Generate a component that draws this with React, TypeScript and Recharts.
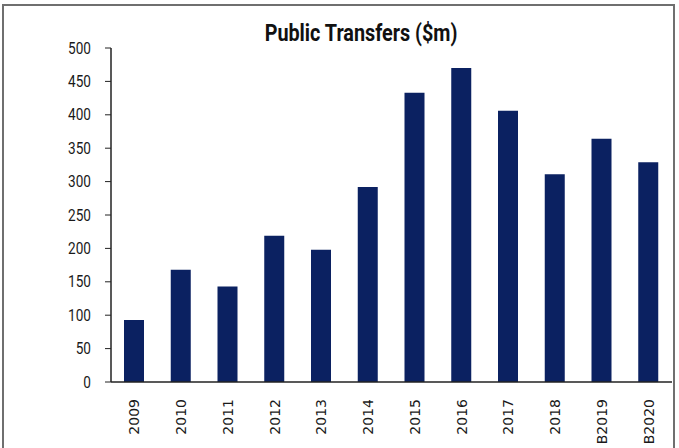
import { BarChart, Bar, XAxis, YAxis } from "recharts";

const years = ["2009", "2010", "2011", "2012", "2013", "2014", "2015", "2016", "2017", "2018", "B2019", "B2020"];
const transfers = [93, 168, 143, 219, 198, 292, 433, 470, 406, 311, 364, 329];
const yTicks = [0, 50, 100, 150, 200, 250, 300, 350, 400, 450, 500];

const data = years.map((year, i) => ({ year, value: transfers[i] }));

const NAVY = "#0b2161";

function YearTick(props: any) {
  const { x, y, payload } = props;
  return (
    <text
      x={x}
      y={y + 9}
      transform={`rotate(-90, ${x}, ${y + 9})`}
      textAnchor="end"
      dominantBaseline="central"
      fontFamily="'DejaVu Sans', sans-serif"
      fontSize={14}
      fill="#1a1a1a"
    >
      {payload.value}
    </text>
  );
}

// condensed look: squeeze Roboto horizontally around the right edge
function ValueTick(props: any) {
  const { x, y, payload } = props;
  return (
    <g transform={`translate(${x}, ${y}) scale(0.8, 1)`}>
      <text
        x={0}
        y={0}
        textAnchor="end"
        dominantBaseline="central"
        fontFamily="Roboto, sans-serif"
        fontSize={17}
        fill="#1a1a1a"
      >
        {payload.value}
      </text>
    </g>
  );
}

export default function App() {
  return (
    <div
      style={{
        position: "absolute",
        left: 0,
        top: 0,
        width: 679,
        height: 448,
        background: "#fff",
        overflow: "hidden",
      }}
    >
      <div
        style={{
          position: "absolute",
          left: 2,
          top: 4,
          width: 673,
          height: 446,
          border: "2px solid #6f6f6f",
          boxSizing: "border-box",
        }}
      />
      <div
        style={{
          position: "absolute",
          left: 161,
          top: 20,
          width: 400,
          textAlign: "center",
          fontFamily: "Roboto, sans-serif",
          fontWeight: "bold",
          fontSize: 23,
          color: "#111",
          transform: "scaleX(0.86)",
          transformOrigin: "center",
        }}
      >
        Public Transfers ($m)
      </div>
      <BarChart
        width={679}
        height={448}
        data={data}
        margin={{ top: 48, right: 7, bottom: 0, left: 0 }}
        barSize={20}
      >
        <XAxis
          dataKey="year"
          height={66}
          interval={0}
          tickLine={false}
          axisLine={{ stroke: "#222", strokeWidth: 1.5 }}
          tick={<YearTick />}
        />
        <YAxis
          width={111}
          domain={[0, 500]}
          ticks={yTicks}
          interval={0}
          tickSize={6}
          tickMargin={14}
          axisLine={{ stroke: "#222", strokeWidth: 1.5 }}
          tickLine={{ stroke: "#222" }}
          tick={<ValueTick />}
        />
        <Bar dataKey="value" fill={NAVY} isAnimationActive={false} />
      </BarChart>
    </div>
  );
}
